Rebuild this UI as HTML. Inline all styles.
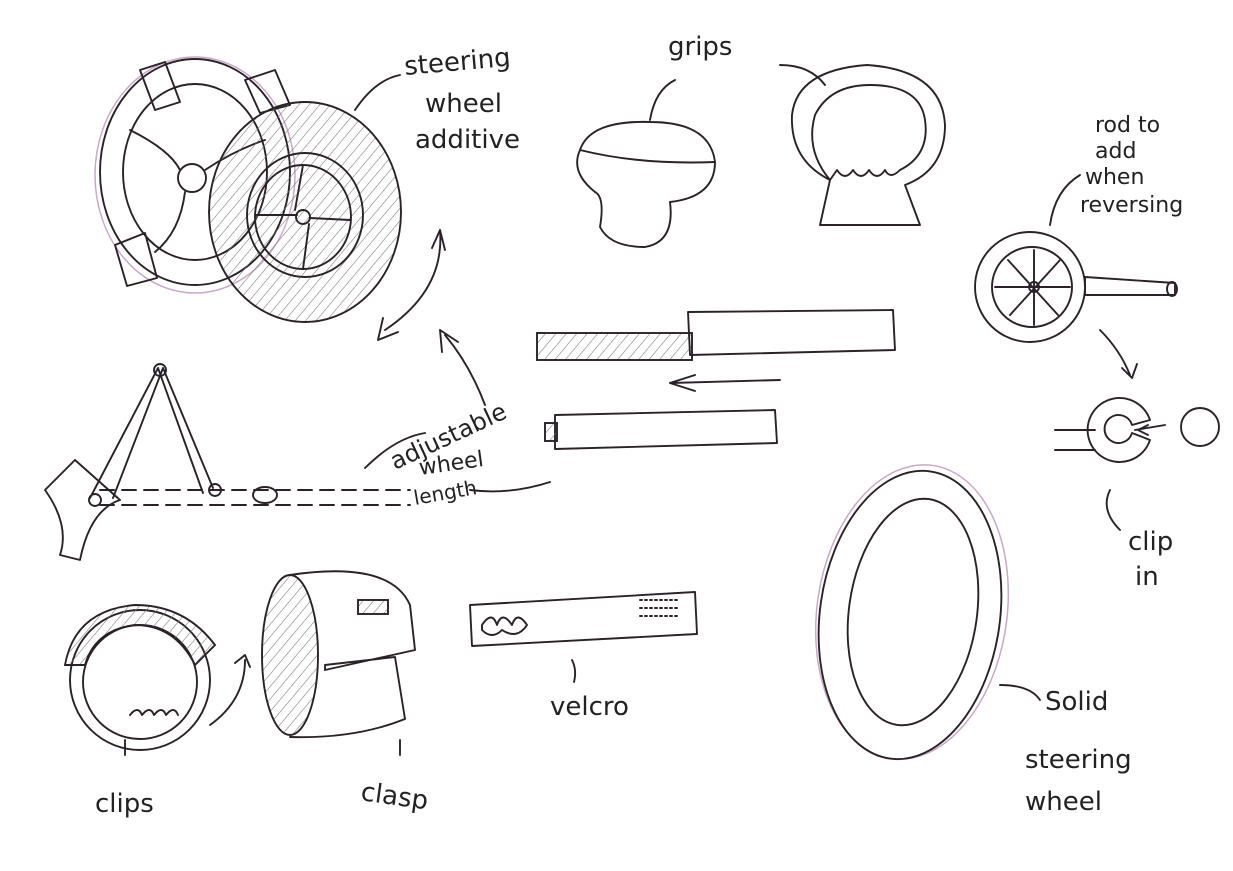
<!DOCTYPE html>
<html><head><meta charset="utf-8"><style>
html,body{margin:0;padding:0;background:#fff;}
svg{display:block;}
text{font-family:"DejaVu Sans","Liberation Sans",sans-serif;fill:#222;font-size:26px;}
.s{fill:none;stroke:#2a2228;stroke-width:1.9;stroke-linecap:round;stroke-linejoin:round;}
.p{fill:none;stroke:#c9a8c8;stroke-width:1.5;}
.h{fill:url(#hatch);stroke:#2a2228;stroke-width:1.9;}
</style></head><body>
<svg width="1233" height="871" viewBox="0 0 1233 871" xmlns="http://www.w3.org/2000/svg">
<defs>
<pattern id="hatch" width="8" height="8" patternUnits="userSpaceOnUse" patternTransform="rotate(40)">
<line x1="0" y1="0" x2="0" y2="8" stroke="#777" stroke-width="1.1"/></pattern>
</defs>
<rect width="1233" height="871" fill="#fff"/>

<!-- steering wheel additive -->
<ellipse class="p" cx="195" cy="175" rx="100" ry="118"/>
<ellipse class="s" cx="195" cy="172" rx="95" ry="113"/>
<ellipse class="s" cx="195" cy="172" rx="72" ry="88"/>
<path class="s" d="M140 70 l25 -8 l15 40 l-25 8z M245 80 l30 -10 l15 35 l-30 8z M115 245 l30 -12 l12 45 l-30 8z"/>
<circle class="s" cx="192" cy="178" r="14"/>
<path class="s" d="M130 130 q40 20 50 40 M205 170 q30 -20 60 -30 M185 192 q-5 40 -30 60"/>
<ellipse class="h" cx="305" cy="212" rx="96" ry="110"/>
<ellipse class="s" cx="305" cy="215" rx="58" ry="62" fill="#fff"/>
<ellipse class="s" cx="303" cy="217" rx="48" ry="52"/>
<circle class="s" cx="303" cy="217" r="7"/>
<path class="s" d="M303 165 l-8 45 M303 269 l6 -45 M255 215 l42 0 M350 220 l-40 -2"/>
<text x="405" y="75" transform="rotate(-5 405 75)">steering</text>
<text x="425" y="112">wheel</text>
<text x="415" y="148">additive</text>
<path class="s" d="M355 110 q20 -30 45 -35"/>
<path class="s" d="M385 330 q60 -40 55 -100 M378 340 l5 -22 M378 340 l20 -8 M440 230 l-8 18 M440 230 l5 20"/>
<path class="s" d="M485 405 q-15 -40 -40 -70 M440 330 l2 22 M440 330 l18 12"/>

<!-- grips -->
<text x="668" y="55">grips</text>
<path class="s" d="M650 120 q5 -30 25 -40 M780 65 q30 0 45 20"/>
<path class="s" d="M580 150 q10 -30 70 -28 q60 0 65 40 q0 35 -45 40 q5 40 -25 45 q-35 0 -45 -20 q5 -30 -5 -35 q-25 -20 -15 -42z"/>
<path class="s" d="M580 150 q60 15 135 12"/>
<path class="s" d="M830 180 q-40 -20 -38 -65 q5 -45 75 -50 q75 5 78 60 q0 45 -40 60 l15 40 l-100 0 l10 -45z"/>
<path class="s" d="M830 180 q-25 -30 -15 -65 q15 -30 55 -30 q50 0 55 35 q5 35 -25 50 q-10 10 -15 0 q-8 12 -16 0 q-8 12 -16 0 q-8 12 -16 0 z"/>

<!-- rod -->
<text x="1095" y="132" style="font-size:22px">rod to</text>
<text x="1095" y="158" style="font-size:22px">add</text>
<text x="1085" y="184" style="font-size:22px">when</text>
<text x="1080" y="212" style="font-size:22px">reversing</text>
<path class="s" d="M1050 225 q5 -35 30 -50"/>
<circle class="s" cx="1030" cy="287" r="55"/>
<circle class="s" cx="1032" cy="287" r="40"/>
<circle class="s" cx="1034" cy="287" r="5"/>
<path class="s" d="M1034 250 v75 M995 287 h75 M1008 260 l50 55 M1060 260 l-50 55"/>
<path class="s" d="M1085 277 l90 6 l0 12 l-90 0 z"/>
<ellipse class="s" cx="1172" cy="289" rx="5" ry="7"/>
<path class="s" d="M1100 330 q20 20 30 45 M1132 378 l-10 -10 M1132 378 l5 -14"/>

<!-- bars -->
<rect class="h" x="537" y="333" width="155" height="27"/>
<path class="s" d="M688 312 l205 -2 l2 40 l-205 5 z" fill="#fff"/>
<path class="s" d="M670 383 l110 -3 M670 383 l25 -8 M670 383 l25 8"/>
<path class="s" d="M555 415 l220 -5 l2 33 l-222 6 z"/>
<rect class="h" x="545" y="423" width="12" height="18"/>

<!-- clip in -->
<path class="s" d="M1150 440 a32 32 0 1 1 0 -20 l-18 5 a14 14 0 1 0 0 8 z"/>
<path class="s" d="M1055 430 h40 M1055 450 h40 M1135 430 l30 -5 M1138 430 l10 -5 M1138 430 l10 5"/>
<circle class="s" cx="1200" cy="427" r="19"/>
<path class="s" d="M1110 490 q-10 20 10 40"/>
<text x="1128" y="550">clip</text>
<text x="1135" y="585">in</text>

<!-- solid steering wheel -->
<ellipse class="p" cx="912" cy="612" rx="95" ry="148" transform="rotate(8 912 612)"/>
<ellipse class="s" cx="910" cy="615" rx="90" ry="145" transform="rotate(8 910 615)"/>
<ellipse class="s" cx="913" cy="612" rx="64" ry="114" transform="rotate(8 913 612)"/>
<path class="s" d="M1000 685 q30 0 40 15"/>
<text x="1045" y="710">Solid</text>
<text x="1025" y="768">steering</text>
<text x="1025" y="810">wheel</text>

<!-- linkage -->
<path class="s" d="M158 368 l-68 130 M163 368 l-50 130 M163 368 l50 120 M158 368 l45 125"/>
<circle class="s" cx="160" cy="370" r="6"/>
<circle class="s" cx="95" cy="500" r="6"/>
<circle class="s" cx="215" cy="490" r="6"/>
<path class="s" d="M45 490 l30 -30 l45 40 q-30 10 -40 60 l-20 -5 q10 -30 -15 -65z"/>
<path class="s" d="M100 490 h310 M100 505 h310" stroke-dasharray="14 8"/>
<ellipse class="s" cx="265" cy="495" rx="12" ry="8"/>
<text x="395" y="470" transform="rotate(-25 395 470)" style="font-size:24px">adjustable</text>
<text x="420" y="475" transform="rotate(-8 420 475)" style="font-size:22px">wheel</text>
<text x="415" y="505" transform="rotate(-10 415 505)" style="font-size:20px">length</text>
<path class="s" d="M365 468 q30 -30 60 -35 M470 490 q40 5 80 -8"/>

<!-- clips -->
<circle class="s" cx="140" cy="680" r="70"/>
<circle class="s" cx="140" cy="682" r="57"/>
<path class="h" d="M65 665 q10 -55 70 -60 q50 0 80 40 l-20 20 q-20 -40 -60 -40 q-40 5 -50 40z"/>
<path class="s" d="M130 715 q8 -10 12 0 q8 -10 12 0 q8 -10 12 0 q8 -10 12 0"/>
<path class="s" d="M210 725 q35 -25 35 -65 M245 655 l-10 8 M245 655 l5 12"/>
<path class="s" d="M125 740 v15"/>
<text x="95" y="812">clips</text>

<!-- clasp -->
<ellipse class="h" cx="290" cy="655" rx="28" ry="80"/>
<path class="s" d="M290 575 q100 -15 120 30 l5 45 l-90 20 l0 -5 M325 665 l70 -8 l10 62 q-50 20 -115 18"/>
<rect class="h" x="358" y="600" width="30" height="14"/>
<path class="s" d="M400 740 v15"/>
<text x="360" y="800" transform="rotate(8 360 800)">clasp</text>

<!-- velcro -->
<path class="s" d="M470 605 l225 -13 l2 42 l-225 12 z"/>
<path class="s" d="M482 625 q10 -15 15 0 q5 -15 15 0 q5 -15 15 0 q-10 15 -25 5 q-10 10 -20 0z"/>
<path class="s" d="M640 600 h40 M640 608 h40 M640 616 h40" stroke-dasharray="2 3"/>
<path class="s" d="M572 660 q5 10 2 22"/>
<text x="550" y="715">velcro</text>
</svg>
</body></html>
